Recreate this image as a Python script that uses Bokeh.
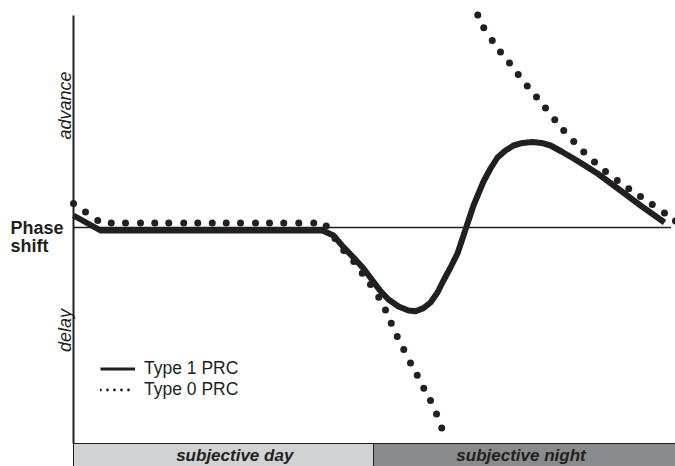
from math import pi
from bokeh.plotting import figure
from bokeh.models import Range1d, Legend, LegendItem
from bokeh.core.properties import value
from bokeh.embed import file_html
from bokeh.resources import INLINE

# ---- data (circadian time in hours, phase shift in hours) ----
type1_ct = [0.0, 1.08, 9.96, 10.4, 10.8, 11.2, 11.6, 11.96, 12.28, 12.6, 13.0, 13.4,
            13.68, 14.0, 14.28, 14.56, 14.8, 15.08, 15.36, 15.68, 16.0, 16.4, 16.68,
            16.96, 17.28, 17.6, 17.96, 18.36, 18.72, 19.08, 19.52, 20.0, 20.48, 20.96,
            21.88, 22.68, 23.64]
type1_shift = [0.6, -0.15, -0.15, -0.4, -0.98, -1.5, -2.05, -2.65, -3.18, -3.6, -3.95, -4.15,
               -4.19, -4.03, -3.75, -3.25, -2.65, -2.0, -1.3, -0.1, 1.1, 2.3, 2.95,
               3.5, 3.85, 4.1, 4.23, 4.27, 4.23, 4.1, 3.8, 3.45, 3.08, 2.7,
               1.85, 1.1, 0.25]

type0_ct = [0.0, 0.48, 0.97, 1.51, 2.08, 2.68, 3.25, 3.81, 4.41, 4.97, 5.55, 6.11, 6.68,
            7.28, 7.84, 8.41, 9.01, 9.61, 10.11, 10.46, 10.81, 11.21, 11.55, 11.88,
            12.21, 12.48, 12.71, 12.95, 13.21, 13.48, 13.75, 14.01, 14.28, 14.52, 14.73,
            16.17, 16.41, 16.75, 17.08, 17.44, 17.79, 18.15, 18.52, 18.88, 19.25, 19.61,
            20.01, 20.41, 20.84, 21.28, 21.75, 22.21, 22.68, 23.15, 23.64, 24.08]
type0_shift = [1.2, 0.77, 0.35, 0.22, 0.22, 0.22, 0.22, 0.22, 0.22, 0.22, 0.22, 0.22, 0.22,
               0.22, 0.22, 0.22, 0.22, 0.22, 0.07, -0.55, -1.15, -1.7, -2.29, -2.85,
               -3.49, -4.12, -4.79, -5.45, -6.1, -6.77, -7.39, -8.04, -8.65, -9.32, -10.02,
               10.62, 9.99, 9.35, 8.77, 8.22, 7.65, 7.07, 6.52, 5.97, 5.39, 4.85,
               4.3, 3.77, 3.27, 2.8, 2.35, 1.94, 1.55, 1.15, 0.72, 0.32]

phase_labels = ["Phase", "shift"]
side_labels = ["advance", "delay"]
band_labels = ["subjective day", "subjective night"]
band_start = [0, 12]
band_end = [12, 24.3]
band_colors = ["#d1d2d4", "#8a8b8d"]
legend_labels = ["Type 1 PRC", "Type 0 PRC"]

INK = "#231f20"
FONT = value("Liberation Sans")

p = figure(width=675, height=466, output_backend="svg", toolbar_location=None,
           x_range=Range1d(-2.92, 24.08), y_range=Range1d(-11.95, 11.35),
           min_border=0, outline_line_color=None, background_fill_color="white")
p.axis.visible = False
p.grid.visible = False

# bottom band
p.quad(left=band_start, right=band_end, bottom=-12.2, top=-10.8,
       fill_color=band_colors, line_color=INK, line_width=1)

# axes
p.line(x=[0, 0], y=[10.6, -10.8], line_color=INK, line_width=2)
p.line(x=[0, 23.9], y=[0, 0], line_color=INK, line_width=1.5)

# curves
p.line(x=type1_ct, y=type1_shift, line_color=INK, line_width=6, line_join="round")
p.scatter(x=type0_ct, y=type0_shift, size=7, marker="circle",
          fill_color=INK, line_color=None)

# texts
p.text(x=[-2.52, -2.52], y=[0.0, -0.93], text=phase_labels, text_font=FONT,
       text_font_style="bold", text_font_size="18px", text_color=INK,
       text_align="left", text_baseline="alphabetic")
p.text(x=[-0.34, -0.34], y=[6.1, -5.15], text=side_labels, angle=pi / 2,
       text_font=FONT, text_font_style="italic", text_font_size="18px",
       text_color=INK, text_align="center", text_baseline="alphabetic")
p.text(x=[6.45, 17.9], y=[-11.38, -11.38], text=band_labels, text_font=FONT,
       text_font_style="bold italic", text_font_size="17px", text_color=INK,
       text_align="center", text_baseline="middle")

# legend (key renderers sit outside the visible range; only their legend glyphs show)
r1 = p.line(x=[-50, -49], y=[-50, -50], line_color=INK, line_width=3.2)
r2 = p.line(x=[-50, -49], y=[-50, -50], line_color=INK, line_width=2.8,
            line_dash="0 7", line_cap="round")
legend = Legend(items=[LegendItem(label=legend_labels[0], renderers=[r1]),
                       LegendItem(label=legend_labels[1], renderers=[r2])],
                location=(100, 66), orientation="vertical",
                background_fill_alpha=0, border_line_color=None,
                padding=0, margin=0, spacing=0,
                glyph_width=35, glyph_height=19, label_height=19, label_standoff=9,
                label_text_font="Liberation Sans", label_text_font_size="17.5px",
                label_text_color=INK)
p.add_layout(legend)

open("out.html", "w").write(file_html(p, INLINE))
